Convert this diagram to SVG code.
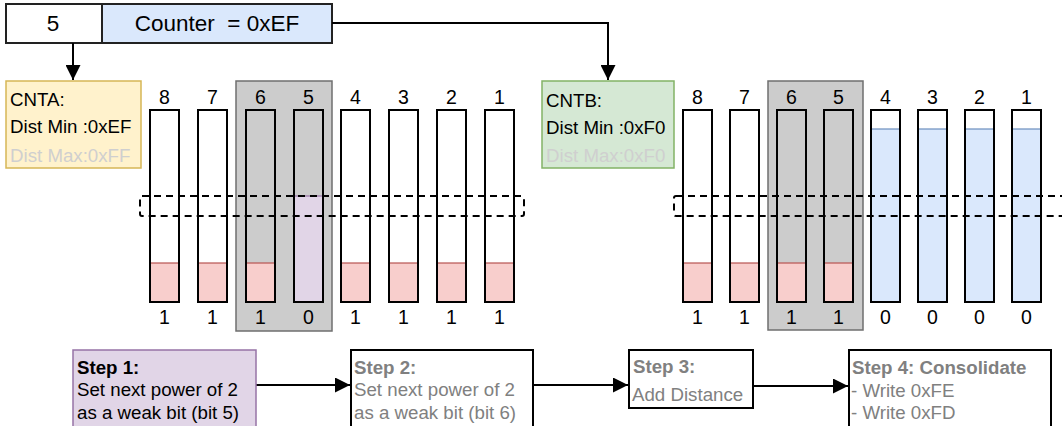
<svg xmlns="http://www.w3.org/2000/svg" width="1062" height="426" viewBox="0 0 1062 426">
<style>
text{font-family:"Liberation Sans",Arial,sans-serif;font-size:18.7px;fill:#000}
.c{text-anchor:middle}
.d{font-size:19.5px}
.big{font-size:22.5px}
.faint{fill:#cfcfcf}
.gray{fill:#808080}
.b{font-weight:bold}
.bar{fill:none;stroke:#000;stroke-width:2}
.red{fill:#f8cecc}
.redl{stroke:#b85450;stroke-width:1.2}
.blue{fill:#dae8fc}
.bluel{stroke:#6c8ebf;stroke-width:1.2}
.grp{fill:#cccccc;stroke:#6f6f6f;stroke-width:1.5}
.dash{fill:none;stroke:#000;stroke-width:2;stroke-dasharray:7 5}
.conn{fill:none;stroke:#000;stroke-width:2}
</style>
<defs>
<marker id="ah" markerWidth="15" markerHeight="15" viewBox="0 0 15 15" refX="15" refY="7.5" orient="auto" markerUnits="userSpaceOnUse">
<path d="M0,0 L15,7.5 L0,15 Z" fill="#000"/>
</marker>
</defs>
<rect width="1062" height="426" fill="#fff"/>

<g id="counter">
<rect x="6" y="4" width="96" height="39" fill="#fff" stroke="#222" stroke-width="2"/>
<rect x="102" y="4" width="230" height="39" fill="#dae8fc" stroke="#222" stroke-width="2"/>
<text class="c big" x="53" y="31">5</text>
<text class="c big" x="217" y="31" xml:space="preserve">Counter  = 0xEF</text>
</g>

<g id="connectors">
<path class="conn" d="M73,43 L73,80" marker-end="url(#ah)"/>
<path class="conn" d="M332,23 L608,23 L608,80" marker-end="url(#ah)"/>
<path class="conn" d="M256,385 L350,385" marker-end="url(#ah)"/>
<path class="conn" d="M533,385 L628,385" marker-end="url(#ah)"/>
<path class="conn" d="M753,386 L848,386" marker-end="url(#ah)"/>
</g>

<g id="cnta">
<rect x="6" y="81" width="135" height="87" fill="#fff2cc" stroke="#d6b656" stroke-width="1.5"/>
<text x="10" y="106">CNTA:</text>
<text x="10" y="133">Dist Min :0xEF</text>
<text class="faint" x="10" y="162">Dist Max:0xFF</text>
</g>

<g id="cntb">
<rect x="542" y="81" width="132" height="87" fill="#d5e8d4" stroke="#82b366" stroke-width="1.5"/>
<text x="546" y="107">CNTB:</text>
<text x="546" y="134">Dist Min :0xF0</text>
<text class="faint" x="546" y="162">Dist Max:0xF0</text>
</g>

<g id="left-bits">
<rect class="grp" x="236" y="81" width="96" height="250"/>
<rect class="red" x="150" y="263" width="29" height="39"/><line class="redl" x1="150" y1="263" x2="179" y2="263"/>
<rect class="red" x="198" y="263" width="29" height="39"/><line class="redl" x1="198" y1="263" x2="227" y2="263"/>
<rect class="red" x="246" y="263" width="29" height="39"/><line class="redl" x1="246" y1="263" x2="275" y2="263"/>
<rect x="294" y="196" width="29" height="106" fill="#e1d5e7"/><line x1="294" y1="196" x2="323" y2="196" stroke="#9673a6" stroke-width="1.2"/>
<rect class="red" x="341" y="263" width="29" height="39"/><line class="redl" x1="341" y1="263" x2="370" y2="263"/>
<rect class="red" x="389" y="263" width="29" height="39"/><line class="redl" x1="389" y1="263" x2="418" y2="263"/>
<rect class="red" x="437" y="263" width="29" height="39"/><line class="redl" x1="437" y1="263" x2="466" y2="263"/>
<rect class="red" x="485" y="263" width="29" height="39"/><line class="redl" x1="485" y1="263" x2="514" y2="263"/>
<rect class="bar" x="150" y="110" width="29" height="192"/>
<rect class="bar" x="198" y="110" width="29" height="192"/>
<rect class="bar" x="246" y="110" width="29" height="192"/>
<rect class="bar" x="294" y="110" width="29" height="192"/>
<rect class="bar" x="341" y="110" width="29" height="192"/>
<rect class="bar" x="389" y="110" width="29" height="192"/>
<rect class="bar" x="437" y="110" width="29" height="192"/>
<rect class="bar" x="485" y="110" width="29" height="192"/>
<text class="c d" x="164.5" y="104">8</text>
<text class="c d" x="212.5" y="104">7</text>
<text class="c d" x="260.5" y="104">6</text>
<text class="c d" x="308.5" y="104">5</text>
<text class="c d" x="355.5" y="104">4</text>
<text class="c d" x="403.5" y="104">3</text>
<text class="c d" x="451.5" y="104">2</text>
<text class="c d" x="499.5" y="104">1</text>
<text class="c d" x="164.5" y="324">1</text>
<text class="c d" x="212.5" y="324">1</text>
<text class="c d" x="260.5" y="324">1</text>
<text class="c d" x="308.5" y="324">0</text>
<text class="c d" x="355.5" y="324">1</text>
<text class="c d" x="403.5" y="324">1</text>
<text class="c d" x="451.5" y="324">1</text>
<text class="c d" x="499.5" y="324">1</text>
<rect class="dash" x="140" y="196" width="384" height="20" rx="2"/>
</g>

<g id="right-bits">
<rect class="grp" x="768" y="81" width="95" height="249"/>
<rect class="red" x="683" y="263" width="29" height="39"/><line class="redl" x1="683" y1="263" x2="712" y2="263"/>
<rect class="red" x="730" y="263" width="29" height="39"/><line class="redl" x1="730" y1="263" x2="759" y2="263"/>
<rect class="red" x="777" y="263" width="29" height="39"/><line class="redl" x1="777" y1="263" x2="806" y2="263"/>
<rect class="red" x="824" y="263" width="29" height="39"/><line class="redl" x1="824" y1="263" x2="853" y2="263"/>
<rect class="blue" x="871" y="129" width="29" height="173"/><line class="bluel" x1="871" y1="129" x2="900" y2="129"/>
<rect class="blue" x="918" y="129" width="29" height="173"/><line class="bluel" x1="918" y1="129" x2="947" y2="129"/>
<rect class="blue" x="965" y="129" width="29" height="173"/><line class="bluel" x1="965" y1="129" x2="994" y2="129"/>
<rect class="blue" x="1012" y="129" width="29" height="173"/><line class="bluel" x1="1012" y1="129" x2="1041" y2="129"/>
<rect class="bar" x="683" y="110" width="29" height="192"/>
<rect class="bar" x="730" y="110" width="29" height="192"/>
<rect class="bar" x="777" y="110" width="29" height="192"/>
<rect class="bar" x="824" y="110" width="29" height="192"/>
<rect class="bar" x="871" y="110" width="29" height="192"/>
<rect class="bar" x="918" y="110" width="29" height="192"/>
<rect class="bar" x="965" y="110" width="29" height="192"/>
<rect class="bar" x="1012" y="110" width="29" height="192"/>
<text class="c d" x="697.5" y="104">8</text>
<text class="c d" x="744.5" y="104">7</text>
<text class="c d" x="791.5" y="104">6</text>
<text class="c d" x="838.5" y="104">5</text>
<text class="c d" x="885.5" y="104">4</text>
<text class="c d" x="932.5" y="104">3</text>
<text class="c d" x="979.5" y="104">2</text>
<text class="c d" x="1026.5" y="104">1</text>
<text class="c d" x="697.5" y="324">1</text>
<text class="c d" x="744.5" y="324">1</text>
<text class="c d" x="791.5" y="324">1</text>
<text class="c d" x="838.5" y="324">1</text>
<text class="c d" x="885.5" y="324">0</text>
<text class="c d" x="932.5" y="324">0</text>
<text class="c d" x="979.5" y="324">0</text>
<text class="c d" x="1026.5" y="324">0</text>
<rect class="dash" x="674" y="196" width="392" height="20" rx="2"/>
</g>

<g id="step1">
<rect x="73" y="350" width="183" height="80" fill="#e1d5e7" stroke="#9673a6" stroke-width="1.5"/>
<text class="b" x="77" y="374">Step 1:</text>
<text x="77" y="396">Set next power of 2</text>
<text x="77" y="419">as a weak bit (bit 5)</text>
</g>

<g id="step2">
<rect x="351" y="350" width="182" height="80" fill="#fff" stroke="#000" stroke-width="2"/>
<text class="b gray" x="354" y="374">Step 2:</text>
<text class="gray" x="354" y="396">Set next power of 2</text>
<text class="gray" x="354" y="419">as a weak bit (bit 6)</text>
</g>

<g id="step3">
<rect x="629" y="350" width="124" height="58" fill="#fff" stroke="#000" stroke-width="2"/>
<text class="b gray" x="633" y="373">Step 3:</text>
<text class="gray" x="632" y="401">Add Distance</text>
</g>

<g id="step4">
<rect x="849" y="350" width="202" height="80" fill="#fff" stroke="#000" stroke-width="2"/>
<text class="b gray" x="852" y="374">Step 4: Consolidate</text>
<text class="gray" x="851" y="397">- Write 0xFE</text>
<text class="gray" x="851" y="419">- Write 0xFD</text>
</g>
</svg>
